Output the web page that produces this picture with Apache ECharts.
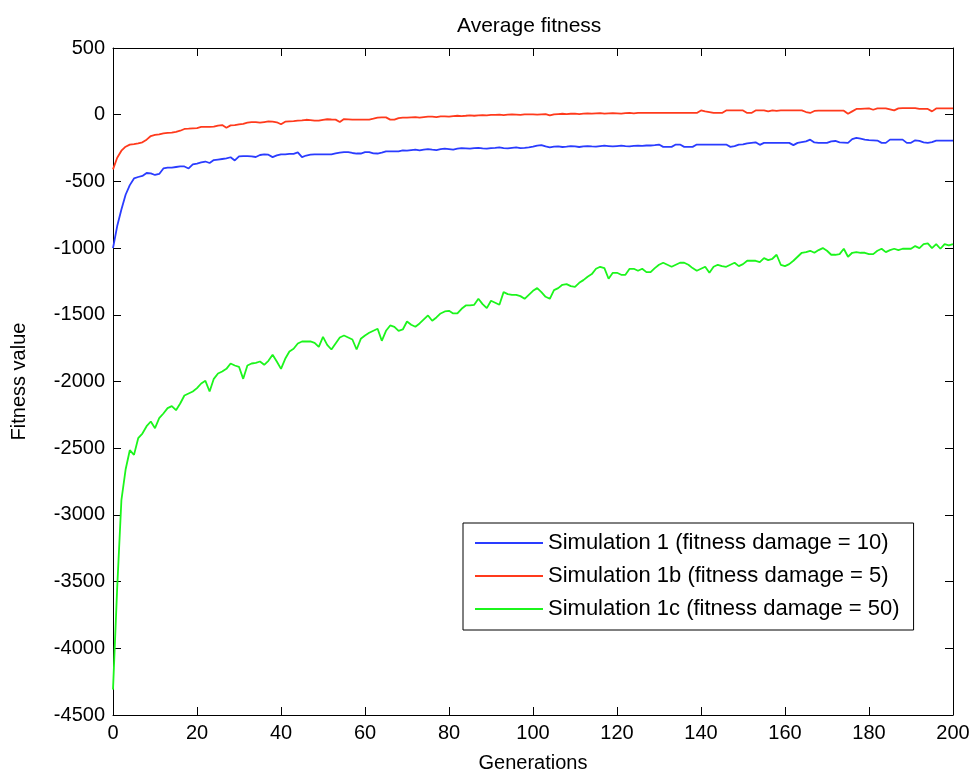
<!DOCTYPE html>
<html>
<head>
<meta charset="utf-8">
<script src="https://cdn.jsdelivr.net/npm/echarts@6/dist/echarts.min.js"></script>
<style>
html,body{margin:0;padding:0;background:#fff;}
#chart{width:973px;height:778px;}
</style>
</head>
<body>
<div id="chart"></div>
<script>
const titleText = 'Average fitness';
const xName = 'Generations';
const yName = 'Fitness value';
const seriesNames = [
  'Simulation 1 (fitness damage = 10)',
  'Simulation 1b (fitness damage = 5)',
  'Simulation 1c (fitness damage = 50)'
];
const xTicks = [0, 20, 40, 60, 80, 100, 120, 140, 160, 180, 200];
const yTicks = [-4500, -4000, -3500, -3000, -2500, -2000, -1500, -1000, -500, 0, 500];

const sim1 = [
  -1000, -835, -710, -600, -528, -478, -467, -459, -437, -440,
  -452, -444, -403, -396, -396, -392, -388, -388, -403, -373,
  -366, -358, -351, -362, -340, -336, -332, -328, -319, -343,
  -313, -311, -311, -313, -317, -302, -298, -300, -318, -305,
  -297, -297, -293, -293, -283, -318, -306, -300, -298, -298,
  -298, -298, -298, -290, -285, -281, -281, -287, -291, -291,
  -281, -281, -290, -291, -285, -275, -275, -275, -275, -268,
  -270, -265, -262, -268, -262, -258, -262, -265, -258, -255,
  -258, -262, -255, -250, -252, -255, -250, -248, -252, -255,
  -250, -248, -245, -250, -252, -248, -245, -250, -248, -245,
  -240, -232, -228, -238, -245, -240, -238, -242, -240, -236,
  -238, -242, -238, -235, -238, -240, -236, -232, -235, -238,
  -235, -232, -236, -238, -234, -232, -234, -231, -231, -228,
  -224, -241, -241, -241, -224, -224, -241, -241, -241, -224,
  -224, -224, -224, -224, -224, -224, -224, -241, -235, -224,
  -222, -215, -211, -207, -226, -211, -211, -211, -211, -211,
  -211, -211, -228, -211, -205, -200, -187, -208, -211, -211,
  -211, -200, -197, -207, -209, -211, -183, -174, -180, -187,
  -190, -192, -194, -211, -211, -187, -187, -187, -187, -211,
  -211, -192, -197, -207, -211, -205, -194, -194, -194, -194,
  -194
];

const sim1b = [
  -410, -323, -270, -240, -224, -220, -215, -207, -187, -160,
  -152, -148, -140, -137, -135, -128, -120, -107, -105, -102,
  -100, -92, -92, -92, -90, -82, -78, -98, -80, -78,
  -72, -68, -60, -55, -55, -60, -55, -50, -52, -57,
  -72, -52, -50, -48, -45, -43, -38, -40, -45, -45,
  -38, -34, -36, -37, -55, -33, -35, -37, -37, -37,
  -37, -37, -30, -22, -20, -20, -37, -37, -25, -22,
  -22, -20, -18, -22, -18, -15, -15, -18, -12, -12,
  -15, -10, -8, -10, -8, -5, -8, -5, -3, -5,
  -2, -2, 0, -3, 0, 2, 0, -2, 2, 3,
  2, 0, 3, 5, -5, 3, 5, 7, 5, 7,
  8, 5, 8, 10, 8, 10, 12, 8, 10, 12,
  10, 8, 12, 13, 10, 13, 13, 13, 13, 13,
  13, 13, 13, 13, 13, 13, 13, 13, 13, 13,
  32, 25, 20, 13, 13, 13, 32, 32, 32, 32,
  32, 13, 13, 32, 32, 32, 25, 32, 28, 32,
  32, 32, 32, 32, 32, 20, 13, 28, 30, 30,
  30, 30, 30, 30, 30, 7, 25, 43, 43, 45,
  47, 37, 47, 47, 47, 40, 32, 47, 50, 50,
  50, 50, 43, 43, 43, 25, 47, 47, 47, 47,
  47
];

const sim1c = [
  -4310, -3545, -2890, -2660, -2515, -2550, -2425, -2390, -2335, -2300,
  -2350, -2275, -2240, -2200, -2185, -2215, -2165, -2105, -2090, -2075,
  -2050, -2015, -1995, -2075, -1980, -1940, -1925, -1905, -1865, -1880,
  -1890, -1980, -1880, -1865, -1860, -1850, -1875, -1845, -1800, -1850,
  -1905, -1830, -1775, -1755, -1715, -1700, -1700, -1700, -1710, -1740,
  -1665, -1725, -1760, -1715, -1670, -1655, -1670, -1685, -1760, -1680,
  -1655, -1635, -1620, -1605, -1695, -1620, -1580, -1590, -1620, -1610,
  -1550, -1575, -1590, -1565, -1535, -1505, -1545, -1520, -1490, -1475,
  -1470, -1490, -1490, -1455, -1430, -1430, -1425, -1380, -1420, -1450,
  -1395, -1410, -1425, -1330, -1345, -1350, -1350, -1360, -1380, -1350,
  -1320, -1300, -1330, -1365, -1380, -1315, -1300, -1275, -1270, -1285,
  -1290, -1260, -1240, -1215, -1195, -1155, -1140, -1150, -1230, -1185,
  -1185, -1200, -1200, -1155, -1155, -1170, -1155, -1180, -1180, -1150,
  -1125, -1110, -1125, -1140, -1125, -1110, -1110, -1125, -1150, -1170,
  -1155, -1140, -1185, -1140, -1125, -1135, -1140, -1125, -1110, -1135,
  -1120, -1095, -1095, -1095, -1105, -1075, -1090, -1080, -1050, -1125,
  -1135, -1120, -1095, -1065, -1035, -1030, -1020, -1035, -1015, -1000,
  -1020, -1050, -1050, -1045, -1005, -1065, -1035, -1030, -1035, -1035,
  -1045, -1045, -1020, -1005, -1030, -1015, -1005, -1015, -1005, -1005,
  -1005, -985, -1000, -970, -965, -1000, -970, -1005, -970, -980,
  -970
];

const colors = ['#2a3cff', '#ff3a1c', '#1cf51c'];
const FONT = 'Liberation Sans, Arial, Helvetica, sans-serif';

function pairs(arr) { return arr.map((v, i) => [i, v]); }
function plain(v) { return String(v); }

const chart = echarts.init(document.getElementById('chart'), null, {renderer: 'canvas'});

const axisCommon = {
  axisLine: {show: true, onZero: false, lineStyle: {color: '#000', width: 1}},
  axisTick: {show: true, inside: true, length: 8, lineStyle: {color: '#000', width: 1}},
  splitLine: {show: false}
};

const option = {
  animation: false,
  backgroundColor: '#fff',
  title: {
    text: titleText,
    left: 452, top: 11,
    textStyle: {fontFamily: FONT, fontSize: 21, fontWeight: 'normal', color: '#000'}
  },
  grid: {left: 113, right: 20, top: 48, bottom: 60, containLabel: false},
  legend: {
    orient: 'vertical',
    left: 463, top: 523,
    data: seriesNames,
    icon: 'rect',
    itemWidth: 68, itemHeight: 2,
    itemGap: 11,
    padding: [9, 14, 10, 12],
    borderColor: '#000', borderWidth: 1,
    backgroundColor: '#fff',
    textStyle: {fontFamily: FONT, fontSize: 22, color: '#000', lineHeight: 22}
  },
  xAxis: [
    Object.assign({}, axisCommon, {
      type: 'value', position: 'bottom',
      min: xTicks[0], max: xTicks[xTicks.length - 1], interval: 20,
      name: xName, nameLocation: 'middle', nameGap: 38,
      nameTextStyle: {fontFamily: FONT, fontSize: 20, color: '#000'},
      axisLabel: {show: true, margin: 8, fontFamily: FONT, fontSize: 20, color: '#000', formatter: plain}
    }),
    Object.assign({}, axisCommon, {
      type: 'value', position: 'top',
      min: xTicks[0], max: xTicks[xTicks.length - 1], interval: 20,
      axisLabel: {show: false}
    })
  ],
  yAxis: [
    Object.assign({}, axisCommon, {
      type: 'value', position: 'left',
      min: yTicks[0], max: yTicks[yTicks.length - 1], interval: 500,
      name: yName, nameLocation: 'middle', nameGap: 84,
      nameTextStyle: {fontFamily: FONT, fontSize: 20, color: '#000'},
      axisLabel: {show: true, margin: 8, fontFamily: FONT, fontSize: 20, color: '#000', formatter: plain}
    }),
    Object.assign({}, axisCommon, {
      type: 'value', position: 'right',
      min: yTicks[0], max: yTicks[yTicks.length - 1], interval: 500,
      axisLabel: {show: false}
    })
  ],
  series: [sim1, sim1b, sim1c].map((arr, k) => ({
    name: seriesNames[k],
    type: 'line',
    data: pairs(arr),
    showSymbol: false,
    symbol: 'none',
    color: colors[k],
    lineStyle: {color: colors[k], width: 1.8},
    xAxisIndex: 0, yAxisIndex: 0,
    z: 3 - k
  }))
};

chart.setOption(option);
</script>
</body>
</html>
